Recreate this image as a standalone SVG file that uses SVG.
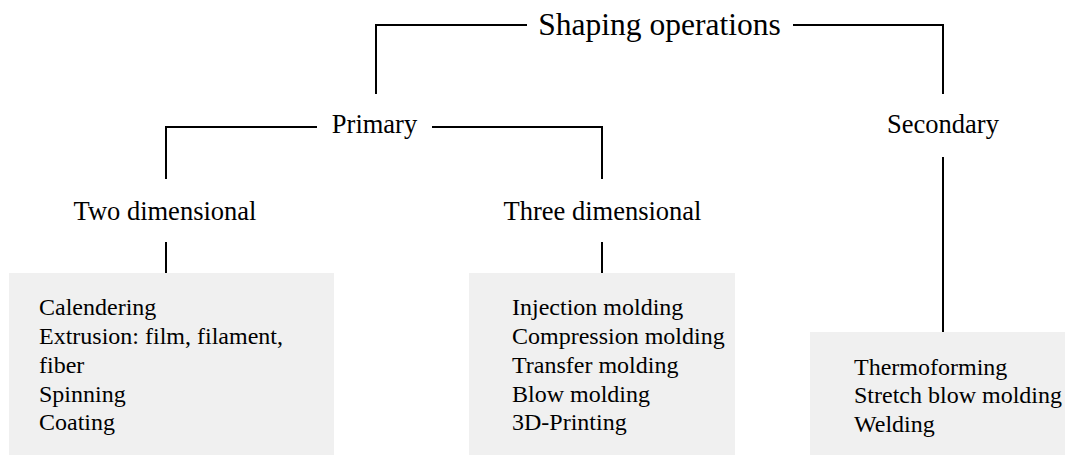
<svg xmlns="http://www.w3.org/2000/svg" width="1065" height="455" viewBox="0 0 1065 455">
<style>
text{font-family:"Liberation Serif","Times New Roman",serif;fill:#000}
.t{font-size:31.5px;text-anchor:middle}
.m{font-size:26.5px;text-anchor:middle}
.b{font-size:24px}
.box{fill:#f0f0f0;stroke:none}
.c{fill:none;stroke:#000;stroke-width:2}
</style>
<rect width="1065" height="455" fill="#fff"/>
<g id="connectors">
<path class="c" d="M376,94 V25 H527"/>
<path class="c" d="M793,25 H943 V94"/>
<path class="c" d="M166,179 V127 H317"/>
<path class="c" d="M432,127 H602 V179"/>
<path class="c" d="M943,157 V332"/>
<path class="c" d="M166,242 V273"/>
<path class="c" d="M602,242 V273"/>
</g>
<g id="shaping"><text class="t" x="659.5" y="35">Shaping operations</text></g>
<g id="primary"><text class="m" x="374.5" y="133">Primary</text></g>
<g id="secondary"><text class="m" x="943" y="133">Secondary</text></g>
<g id="two-dimensional"><text class="m" x="165" y="220">Two dimensional</text></g>
<g id="three-dimensional"><text class="m" x="602.5" y="220">Three dimensional</text></g>
<g id="box-2d">
<rect class="box" x="9" y="273" width="325" height="182"/>
<text class="b" x="39" y="315">Calendering</text>
<text class="b" x="39" y="344">Extrusion: film, filament,</text>
<text class="b" x="39" y="373">fiber</text>
<text class="b" x="39" y="402">Spinning</text>
<text class="b" x="39" y="430">Coating</text>
</g>
<g id="box-3d">
<rect class="box" x="469" y="273" width="266" height="182"/>
<text class="b" x="512" y="315">Injection molding</text>
<text class="b" x="512" y="344">Compression molding</text>
<text class="b" x="512" y="373">Transfer molding</text>
<text class="b" x="512" y="402">Blow molding</text>
<text class="b" x="512" y="430">3D-Printing</text>
</g>
<g id="box-secondary">
<rect class="box" x="810" y="332" width="255" height="123"/>
<text class="b" x="854" y="375">Thermoforming</text>
<text class="b" x="854" y="403">Stretch blow molding</text>
<text class="b" x="854" y="432">Welding</text>
</g>
</svg>
